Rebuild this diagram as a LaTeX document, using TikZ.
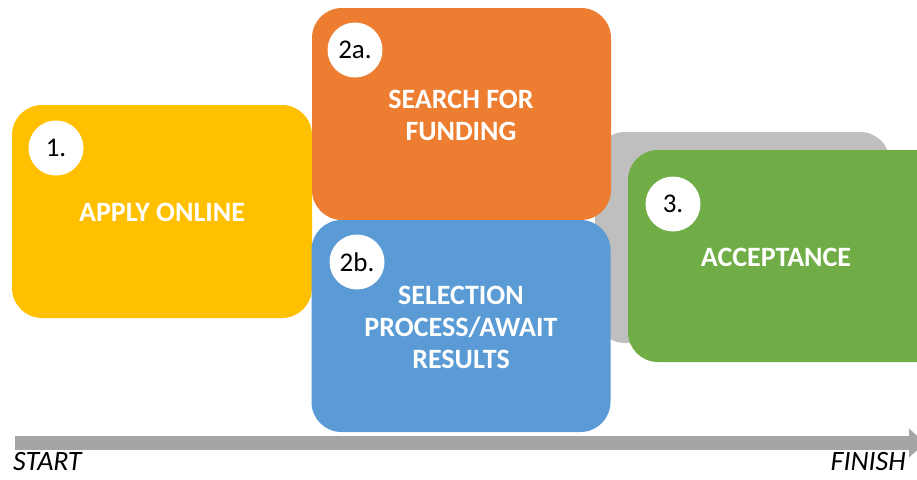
\documentclass[tikz,border=0pt]{standalone}
\usepackage{fontspec}
\setmainfont{Carlito}
\usetikzlibrary{arrows.meta}
\definecolor{stepyellow}{HTML}{FFC000}
\definecolor{steporange}{HTML}{ED7D31}
\definecolor{stepblue}{HTML}{5B9BD5}
\definecolor{stepgreen}{HTML}{70AD47}
\definecolor{stepgray}{HTML}{BFBFBF}
\definecolor{linegray}{HTML}{A5A5A5}

\begin{document}
\begin{tikzpicture}[x=1pt, y=-1pt,
    stepbox/.style={rounded corners=30pt, minimum width=299pt, minimum height=212pt,
      inner sep=0pt},
    steptext/.style={text=white, font=\bfseries\fontsize{28}{32}\selectfont, align=center},
    numdot/.style={circle, fill=white, minimum size=55pt, inner sep=0pt,
      font=\fontsize{27}{30}\selectfont}]
          \useasboundingbox (0, 0) rectangle (917, 479);
          \clip (0, 0) rectangle (917, 479);

          % Boxes
          \node [stepbox, fill=stepgray, minimum width=295pt, minimum height=211pt] (back) at (742.5, 237.5) {};
          \node [stepbox, fill=stepyellow, minimum width=300pt, minimum height=213pt] (apply) at (162, 211.5) {};
          \node [stepbox, fill=steporange] (search) at (461.5, 114) {};
          \node [stepbox, fill=stepblue] (select) at (461, 326) {};
          \node [stepbox, fill=stepgreen, minimum width=320pt] (accept) at (788, 256) {};

          % Labels
          \node [steptext] (applytext) at (162, 212) {APPLY ONLINE};
          \node [steptext] (searchtext) at (461, 115) {SEARCH FOR\\FUNDING};
          \node [steptext] (selecttext) at (461, 327) {SELECTION\\PROCESS/AWAIT\\RESULTS};
          \node [steptext] (accepttext) at (776, 257) {ACCEPTANCE};

          % Numbers
          \node [numdot] (one) at (56, 148) {1.};
          \node [numdot] (twoa) at (355, 50) {2a.};
          \node [numdot] (twob) at (357, 262) {2b.};
          \node [numdot] (three) at (673, 204) {3.};

          % Time line
          \coordinate (start) at (15, 443);
          \coordinate (finish) at (925, 443);
          \draw [linegray, line width=14pt, -{Triangle[length=16pt, width=28pt]}] (start) -- (finish);
          \node [anchor=base west, font=\itshape\fontsize{28}{32}\selectfont, inner sep=0pt] (starttext) at (13, 470) {START};
          \node [anchor=base east, font=\itshape\fontsize{28}{32}\selectfont, inner sep=0pt] (finishtext) at (906, 470) {FINISH};
        \end{tikzpicture}
\end{document}
